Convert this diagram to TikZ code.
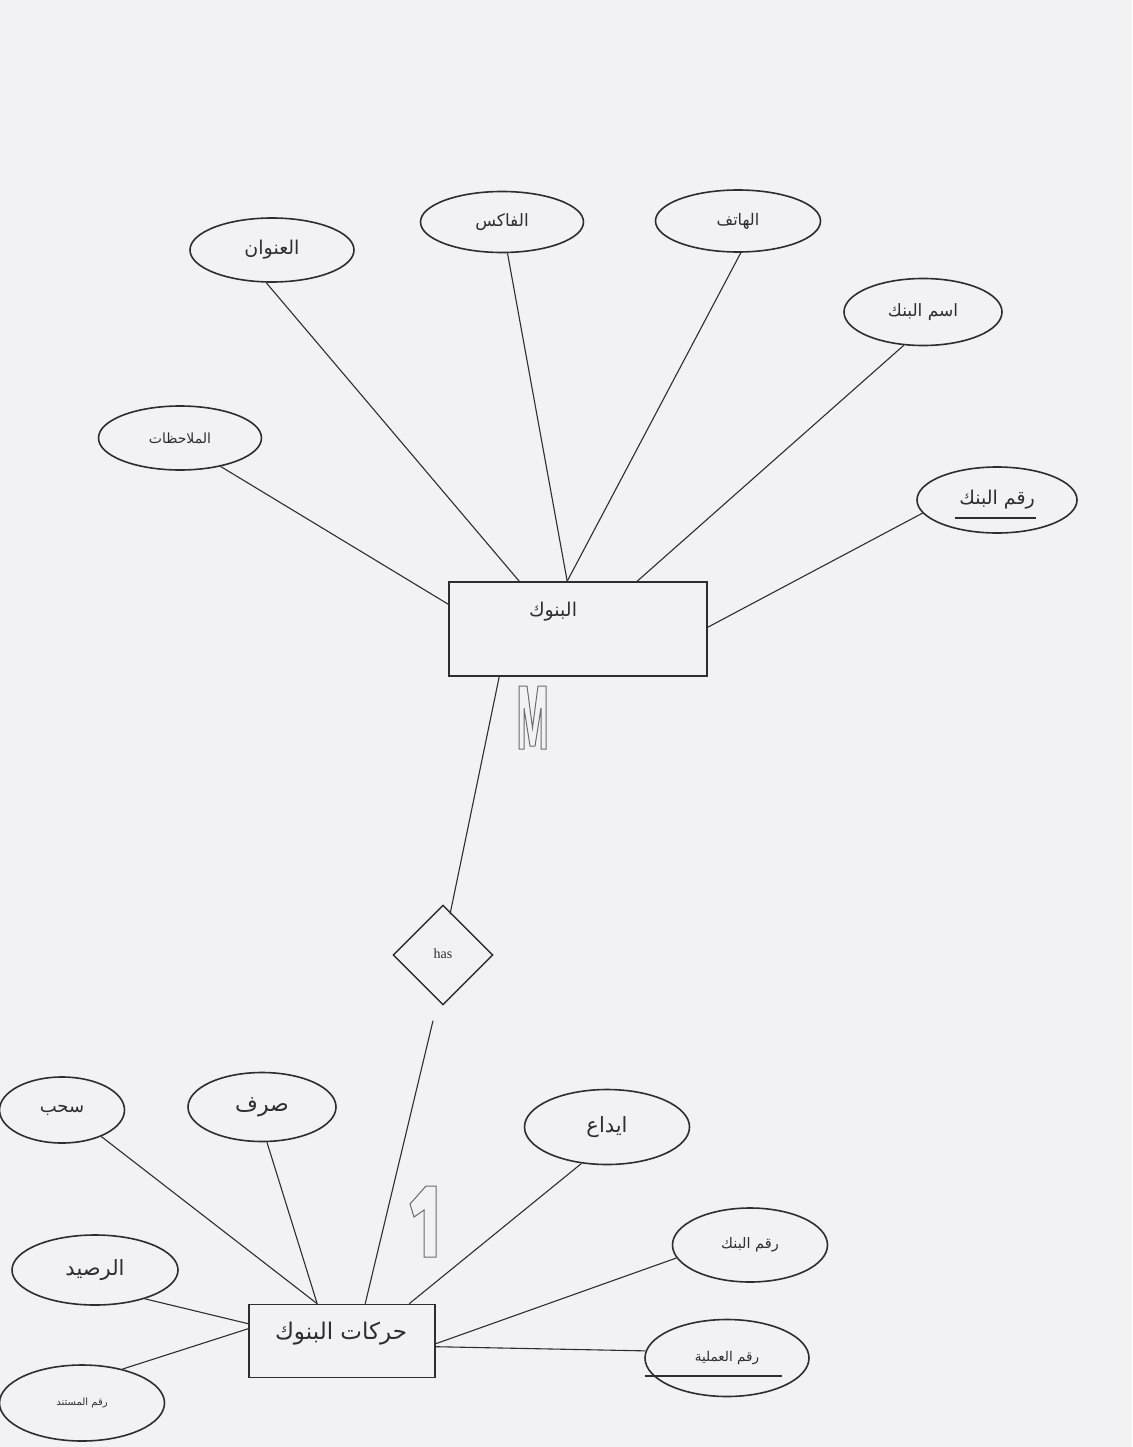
\documentclass[tikz,border=0pt]{standalone}
\usepackage{fontspec}
\newfontfamily\arabicfont[Script=Arabic]{DejaVu Sans}
\setmainfont{Liberation Serif}
\TeXXeTstate=1
\usetikzlibrary{shapes.geometric,calc}
\definecolor{paper}{RGB}{242,241,243}
\definecolor{ink}{RGB}{45,45,50}
\newcommand{\fs}[1]{\arabicfont\fontsize{#1}{#1}\selectfont}
\tikzset{
  attr/.style={ellipse,draw=ink,line width=1.6pt,inner sep=0pt,text=ink},
  ent/.style={rectangle,draw=ink,line width=1.6pt,inner sep=0pt},
  rel/.style={diamond,draw=ink,line width=1.4pt,inner sep=0pt,minimum width=100pt,minimum height=100pt},
  conn/.style={draw=ink,line width=1.1pt},
  outl/.style={draw=ink!70,line width=1pt,line join=miter}
}
\newcommand{\ar}[1]{\beginR #1\endR}
\begin{document}
\begin{tikzpicture}[x=1pt,y=-1pt]
\fill[paper] (0,0) rectangle (1132,1447);
\useasboundingbox (0,0) rectangle (1132,1447);

% top entity
\node[ent,minimum width=258pt,minimum height=94pt] (banks) at (578,629) {};
\node[font=\fs{19},text=ink] (banksl) at (553,612) {\ar{البنوك}};

\node[attr,minimum width=164pt,minimum height=64pt,font=\fs{19}] (addr) at (272,250) {\ar{العنوان}};
\node[attr,minimum width=163pt,minimum height=61pt,font=\fs{17}] (fax) at (502,222) {\ar{الفاكس}};
\node[attr,minimum width=165pt,minimum height=62pt,font=\fs{16}] (phone) at (738,221) {\ar{الهاتف}};
\node[attr,minimum width=158pt,minimum height=67pt,font=\fs{17}] (bname) at (923,312) {\ar{اسم البنك}};
\node[attr,minimum width=163pt,minimum height=64pt,font=\fs{14}] (notes) at (180,438) {\ar{الملاحظات}};
\node[attr,minimum width=160pt,minimum height=66pt,font=\fs{19}] (bno) at (997,500) {\ar{رقم البنك}};
\draw[draw=ink,line width=1.3pt] (955,518) -- (1036,518);

\draw[conn] (addr.-100) -- ($(banks.north west)+(71,0)$);
\draw[conn] (fax.-80) -- ($(banks.north west)+(119,0)$);
\draw[conn] (phone.-85) -- ($(banks.north west)+(119,0)$);
\draw[conn] (bname.-120) -- ($(banks.north west)+(189,0)$);
\draw[conn] (notes.-35) -- ($(banks.north west)+(0,23)$);
\draw[conn] (bno.-170) -- ($(banks.north east)+(0,46)$);

% M
\draw[outl] (519,749) -- (519,686) -- (527,686) -- (532.5,728) -- (538,686) -- (546,686) -- (546,749) -- (541,749) -- (541,708) -- (535,746) -- (530,746) -- (524,708) -- (524,749) -- cycle;

% relationship
\node[rel,font=\fontsize{14}{16}\selectfont,text=ink] (has) at (443,955) {\raisebox{3pt}{has}};
\draw[conn] ($(banks.south west)+(51,0)$) -- ($(has.north)+(7,10)$);

% bottom entity
\node[ent,minimum width=186pt,minimum height=73pt] (moves) at (342,1341) {};
\node[font=\fs{23},text=ink] (movesl) at (341,1334) {\ar{حركات البنوك}};
\draw[conn] ($(has.south)+(-10,15)$) -- ($(moves.north west)+(117,0)$);

% 1
\draw[outl] (436,1186) -- (436,1257) -- (424,1257) -- (424,1210) -- (414,1217) -- (410,1204) -- (426,1186) -- cycle;

\node[attr,minimum width=125pt,minimum height=66pt,font=\fs{18}] (wd) at (62,1110) {\ar{سحب}};
\node[attr,minimum width=148pt,minimum height=69pt,font=\fs{22}] (exp) at (262,1107) {\ar{صرف}};
\node[attr,minimum width=165pt,minimum height=75pt,font=\fs{21}] (dep) at (607,1127) {\ar{ايداع}};
\node[attr,minimum width=155pt,minimum height=74pt,font=\fs{14.5}] (bno2) at (750,1245) {\ar{رقم البنك}};
\node[attr,minimum width=166pt,minimum height=70pt,font=\fs{21}] (bal) at (95,1270) {\ar{الرصيد}};
\node[attr,minimum width=164pt,minimum height=77pt,font=\fs{13.5}] (opno) at (727,1358) {\ar{رقم العملية}};
\node[attr,minimum width=165pt,minimum height=76pt,font=\fs{10}] (docno) at (82,1403) {\ar{رقم المستند}};

\draw[conn] (wd.-34) -- ($(moves.north west)+(69,0)$);
\draw[conn] (exp.-82) -- ($(moves.north west)+(69,0)$);
\draw[conn] (dep.-125) -- ($(moves.north west)+(161,0)$);
\draw[conn] (bno2.-170) -- ($(moves.north east)+(0,40)$);
\draw[conn] ($(moves.north east)+(0,43)$) -- (opno.175);
\draw[conn] (bal.-30) -- ($(moves.north west)+(0,20)$);
\draw[conn] (docno.40) -- ($(moves.north west)+(0,25)$);
\draw[draw=ink,line width=1.4pt] (645,1376) -- (782,1376);
\end{tikzpicture}
\end{document}
